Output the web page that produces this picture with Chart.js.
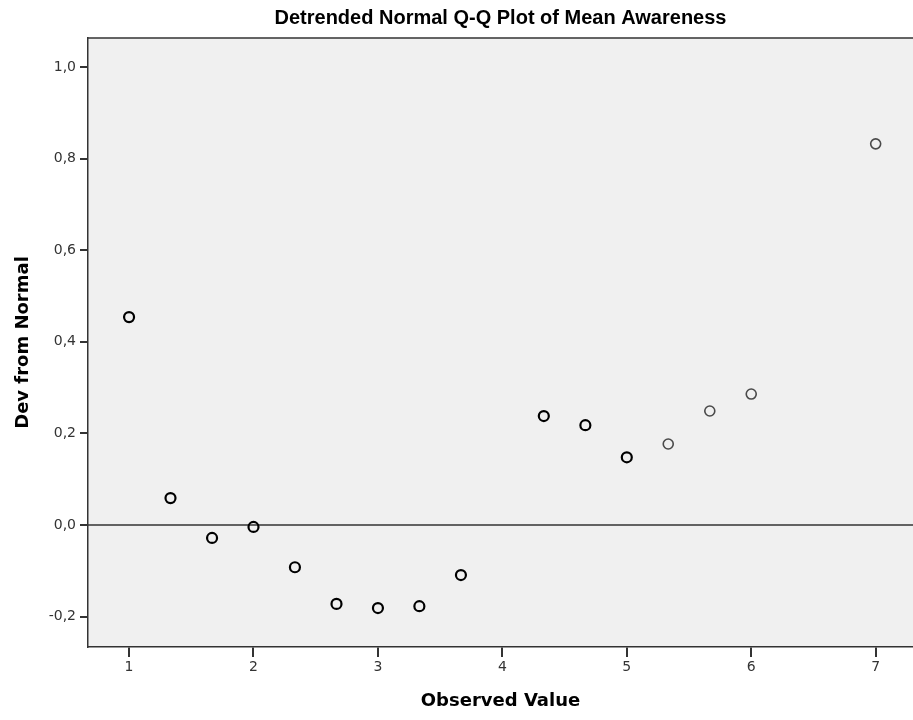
<!DOCTYPE html>
<html>
<head>
<meta charset="utf-8">
<script src="https://cdn.jsdelivr.net/npm/chart.js@4"></script>
<style>
  html, body { margin: 0; padding: 0; background: #fff; overflow: hidden; }
</style>
</head>
<body>
<canvas id="qqChart" width="913" height="720"></canvas>
<script>
const observed = [1, 1.333, 1.667, 2, 2.333, 2.667, 3, 3.333, 3.667, 4.333, 4.667, 5, 5.333, 5.667, 6, 7];
const deviation = [0.454, 0.059, -0.028, -0.004, -0.092, -0.172, -0.181, -0.177, -0.109, 0.238, 0.218, 0.148, 0.177, 0.249, 0.286, 0.832];

const xTicks = [1, 2, 3, 4, 5, 6, 7];
const yTicks = [-0.2, 0, 0.2, 0.4, 0.6, 0.8, 1.0];
const yTickLabels = ['-0,2', '0,0', '0,2', '0,4', '0,6', '0,8', '1,0'];

const titleText = 'Detrended Normal Q-Q Plot of Mean Awareness';

let points = [];
for (let i = 0; i < observed.length; i++) {
    points.push({ x: observed[i], y: deviation[i] });
}

// grey plot area, frame, zero line and the centred title
const plotFrame = {
    id: 'plotFrame',
    beforeDraw(chart) {
        const { ctx, chartArea: a } = chart;
        ctx.save();
        ctx.fillStyle = '#f0f0f0';
        ctx.fillRect(a.left, a.top, a.right - a.left, a.bottom - a.top);
        ctx.restore();
    },
    beforeDatasetsDraw(chart) {
        const { ctx, chartArea: a } = chart;
        const y0 = chart.scales.y.getPixelForValue(0);
        ctx.save();
        ctx.strokeStyle = '#333';
        ctx.lineWidth = 1.5;
        ctx.beginPath();
        ctx.moveTo(a.left, y0);
        ctx.lineTo(a.right, y0);
        ctx.moveTo(a.left, a.top);
        ctx.lineTo(a.right, a.top);
        ctx.stroke();
        ctx.restore();
    },
    afterDraw(chart) {
        const { ctx, chartArea: a } = chart;
        ctx.save();
        ctx.fillStyle = '#000';
        ctx.font = 'bold 20px "Liberation Sans", Arial, sans-serif';
        ctx.textAlign = 'center';
        ctx.textBaseline = 'middle';
        ctx.fillText(titleText, (a.left + a.right) / 2, 18);
        ctx.restore();
    }
};

new Chart(document.getElementById('qqChart'), {
    type: 'scatter',
    data: {
        datasets: [{
            label: 'Dev from Normal',
            data: points,
            pointRadius: 5,
            pointHoverRadius: 5,
            pointBackgroundColor: 'rgba(0,0,0,0)',
            pointBorderColor: ctx => ctx.dataIndex >= 12 ? '#4a4a4a' : '#000',
            pointBorderWidth: ctx => ctx.dataIndex >= 12 ? 1.6 : 2.2
        }]
    },
    options: {
        responsive: false,
        animation: false,
        layout: { autoPadding: false, padding: { top: 38, left: 0, right: 0, bottom: 0 } },
        plugins: {
            legend: { display: false },
            tooltip: { enabled: false }
        },
        scales: {
            x: {
                type: 'linear',
                min: 0.67,
                max: 7.3,
                afterBuildTicks: scale => { scale.ticks = xTicks.map(v => ({ value: v })); },
                afterFit: scale => {
                    scale.height = 73;
                    scale.paddingLeft = 0;
                    scale.paddingRight = 0;
                },
                grid: { drawOnChartArea: false, drawTicks: true, tickLength: 10, color: '#333', lineWidth: 2 },
                border: { display: true, color: '#333', width: 1.5 },
                ticks: {
                    padding: 2,
                    color: '#333',
                    font: { family: 'DejaVu Sans', size: 14 },
                    callback: v => String(v)
                },
                title: {
                    display: true,
                    text: 'Observed Value',
                    color: '#000',
                    font: { family: 'DejaVu Sans', size: 18, weight: 'bold' },
                    padding: { top: 0, bottom: 8 }
                }
            },
            y: {
                type: 'linear',
                min: -0.266,
                max: 1.063,
                afterBuildTicks: scale => { scale.ticks = yTicks.map(v => ({ value: v })); },
                afterFit: scale => {
                    scale.width = 88;
                    scale.paddingTop = 0;
                    scale.paddingBottom = 0;
                },
                grid: { drawOnChartArea: false, drawTicks: true, tickLength: 8, color: '#333', lineWidth: 2 },
                border: { display: true, color: '#333', width: 1.5 },
                ticks: {
                    padding: 4,
                    color: '#333',
                    font: { family: 'DejaVu Sans', size: 14 },
                    callback: function(v) {
                        const i = yTicks.findIndex(t => Math.abs(t - v) < 1e-9);
                        return i >= 0 ? yTickLabels[i] : '';
                    }
                },
                title: {
                    display: true,
                    text: 'Dev from Normal',
                    color: '#000',
                    font: { family: 'DejaVu Sans', size: 18, weight: 'bold' },
                    padding: { top: 13, bottom: 0 }
                }
            }
        }
    },
    plugins: [plotFrame]
});
</script>
</body>
</html>
